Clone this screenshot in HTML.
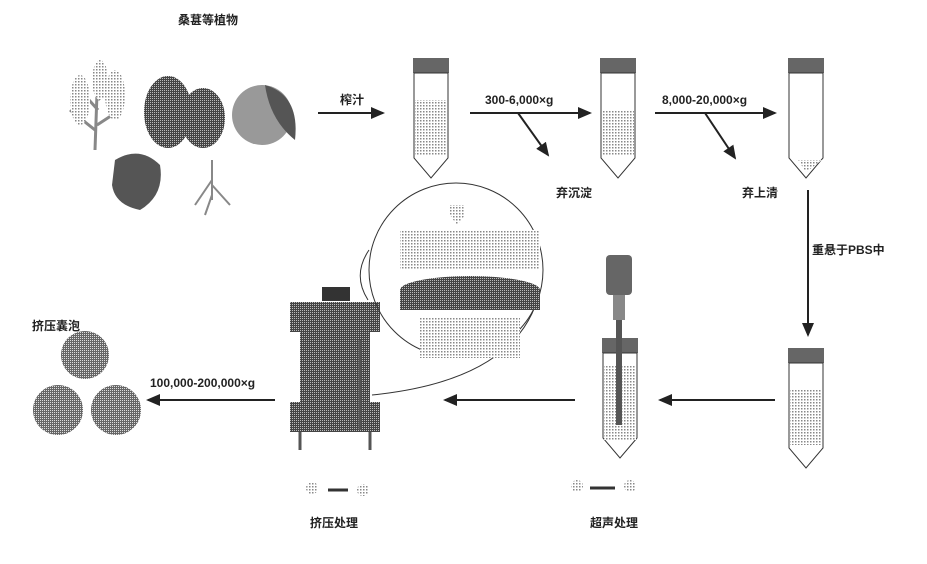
<!DOCTYPE html><html><head><meta charset="utf-8"><style>
body{margin:0;background:#fff}
svg text{font-family:"Liberation Sans","Noto Sans CJK SC",sans-serif;font-size:12px;fill:#222;font-weight:bold}
</style></head><body>
<svg width="927" height="559" viewBox="0 0 927 559" xmlns="http://www.w3.org/2000/svg">
<defs>
<marker id="a" markerWidth="8" markerHeight="8" refX="6" refY="3" orient="auto"><path d="M0,0 L7,3 L0,6 Z" fill="#222"/></marker>
<pattern id="d" width="3" height="3" patternUnits="userSpaceOnUse"><rect width="3" height="3" fill="#fff"/><rect width="1.5" height="1.5" fill="#888"/></pattern>
<pattern id="k" width="2" height="2" patternUnits="userSpaceOnUse"><rect width="2" height="2" fill="#444"/><rect width="1" height="1" fill="#bbb"/></pattern>
<pattern id="m" width="2" height="2" patternUnits="userSpaceOnUse"><rect width="2" height="2" fill="#666"/><rect width="1" height="1" fill="#ddd"/></pattern>
<g id="tube"><rect x="0" y="0" width="36" height="15" fill="#666"/><path d="M1,15 V100 L18,120 L35,100 V15 Z" fill="#fff" stroke="#333"/></g>
</defs>
<g stroke="#222" stroke-width="2" fill="none">
<line x1="318" y1="113" x2="383" y2="113" marker-end="url(#a)"/>
<line x1="470" y1="113" x2="590" y2="113" marker-end="url(#a)"/>
<line x1="518" y1="113" x2="548" y2="155" marker-end="url(#a)"/>
<line x1="655" y1="113" x2="775" y2="113" marker-end="url(#a)"/>
<line x1="705" y1="113" x2="735" y2="158" marker-end="url(#a)"/>
<line x1="808" y1="190" x2="808" y2="335" marker-end="url(#a)"/>
<line x1="775" y1="400" x2="660" y2="400" marker-end="url(#a)"/>
<line x1="575" y1="400" x2="445" y2="400" marker-end="url(#a)"/>
<line x1="275" y1="400" x2="148" y2="400" marker-end="url(#a)"/>
</g>
<text x="178" y="24">桑葚等植物</text>
<text x="340" y="104">榨汁</text>
<text x="485" y="104">300-6,000×g</text>
<text x="662" y="104">8,000-20,000×g</text>
<text x="556" y="197">弃沉淀</text>
<text x="742" y="197">弃上清</text>
<text x="812" y="254">重悬于PBS中</text>
<text x="150" y="387">100,000-200,000×g</text>
<text x="32" y="330">挤压囊泡</text>
<text x="310" y="527">挤压处理</text>
<text x="590" y="527">超声处理</text>
<path d="M95,150 L98,65 M80,90 L98,110 M112,80 L98,100 M70,110 L95,130 M120,110 L97,125" stroke="#888" stroke-width="3"/>
<g fill="url(#d)"><ellipse cx="80" cy="100" rx="10" ry="25"/><ellipse cx="115" cy="95" rx="10" ry="25"/><ellipse cx="100" cy="80" rx="8" ry="20"/></g>
<ellipse cx="168" cy="112" rx="24" ry="36" fill="url(#k)"/><ellipse cx="203" cy="118" rx="22" ry="30" fill="url(#k)"/>
<circle cx="262" cy="115" r="30" fill="#999"/><path d="M265,85 Q300,95 295,140 Q270,120 265,85Z" fill="#555"/>
<path d="M115,160 Q140,145 160,165 Q165,195 140,210 Q115,205 112,185Z" fill="#555"/>
<path d="M212,160 V200 M212,180 L195,205 M212,185 L230,205 M212,195 L205,215" stroke="#888" stroke-width="2"/>
<use href="#tube" x="413" y="58"/><rect x="415" y="100" width="32" height="55" fill="url(#d)"/>
<use href="#tube" x="600" y="58"/><rect x="602" y="110" width="32" height="45" fill="url(#d)"/>
<use href="#tube" x="788" y="58"/><path d="M798,160 L822,160 L806,172Z" fill="url(#d)"/>
<use href="#tube" x="788" y="348"/><rect x="790" y="390" width="32" height="55" fill="url(#d)"/>
<use href="#tube" x="602" y="338"/><rect x="604" y="365" width="32" height="75" fill="url(#d)"/>
<rect x="606" y="255" width="26" height="40" rx="4" fill="#666"/><rect x="613" y="295" width="12" height="25" fill="#888"/><rect x="616" y="320" width="6" height="105" fill="#555"/>
<rect x="322" y="287" width="28" height="14" fill="#333"/>
<rect x="290" y="302" width="90" height="30" fill="url(#k)"/>
<rect x="300" y="332" width="70" height="70" fill="url(#k)"/>
<rect x="290" y="402" width="90" height="30" fill="url(#k)"/>
<path d="M300,432 V450 M370,432 V450 M360,340 V430" stroke="#555" stroke-width="3"/>
<circle cx="456" cy="270" r="87" fill="none" stroke="#333"/>
<path d="M369,250 Q352,275 368,300 M540,290 Q520,380 372,395" stroke="#333" fill="none"/>
<path d="M450,205 H465 V215 L457,225 L450,215Z" fill="url(#d)"/>
<rect x="400" y="230" width="140" height="40" fill="url(#d)"/>
<ellipse cx="470" cy="290" rx="70" ry="14" fill="url(#k)"/><rect x="400" y="290" width="140" height="20" fill="url(#k)"/>
<rect x="420" y="318" width="100" height="40" fill="url(#d)"/>
<circle cx="85" cy="355" r="24" fill="url(#m)"/><circle cx="58" cy="410" r="25" fill="url(#m)"/><circle cx="116" cy="410" r="25" fill="url(#m)"/>
<path d="M328,490 H348 M590,488 H615" stroke="#333" stroke-width="3"/>
<g fill="url(#d)"><circle cx="312" cy="488" r="6"/><circle cx="363" cy="490" r="6"/><circle cx="577" cy="486" r="6"/><circle cx="630" cy="486" r="6"/></g>
</svg>
</body></html>
